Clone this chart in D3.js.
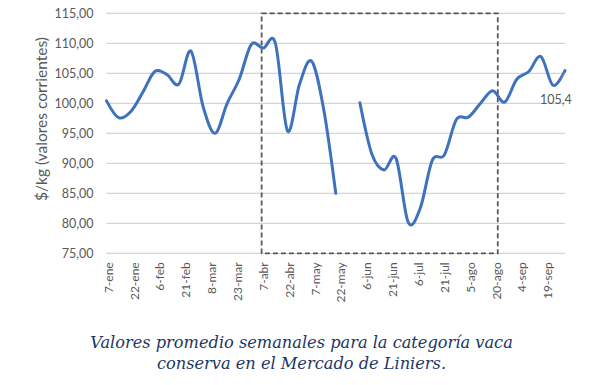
<!DOCTYPE html>
<html><head><meta charset="utf-8">
<script src="https://cdn.jsdelivr.net/npm/d3@7"></script>
<style>
html,body{margin:0;padding:0;background:#fff;}
svg{display:block;}
</style></head>
<body>
<svg id="chart" width="603" height="385"></svg>
<script>
// ---- data ----
const weekIndex = d3.range(39);               // weekly observations starting 7-ene
const values = [100.4, 97.6, 98.6, 101.8, 105.3, 104.8, 103.2, 108.7, 99.5, 95.0,
  100.0, 104.0, 109.8, 109.2, 110.0, 95.4, 103.2, 107.0, 99.0, 85.0,
  null, 100.1, 91.5, 88.9, 90.8, 80.2, 82.5, 90.5, 91.4, 97.3,
  97.7, 100.0, 102.1, 100.2, 104.0, 105.3, 107.8, 103.0, 105.45];
const tickDays = [0, 15, 30, 45, 60, 75, 90, 105, 120, 135, 150, 165, 180, 195, 210, 225, 240, 255];
const tickLabels = ["7-ene", "22-ene", "6-feb", "21-feb", "8-mar", "23-mar", "7-abr", "22-abr", "7-may",
  "22-may", "6-jun", "21-jun", "6-jul", "21-jul", "5-ago", "20-ago", "4-sep", "19-sep"];
const yTicks = [75, 80, 85, 90, 95, 100, 105, 110, 115];
const boxDays = [90, 227];
const yTitle = "$/kg (valores corrientes)";
const captionLines = ["Valores promedio semanales para la categoría vaca", "conserva en el Mercado de Liniers."];

// ---- layout ----
const svg = d3.select("#chart");
const plot = {left: 106.5, right: 565, top: 13.3, bottom: 253.3};
const x = d3.scaleLinear().domain([0, 266]).range([plot.left, plot.right]);
const y = d3.scaleLinear().domain([75, 115]).range([plot.bottom, plot.top]);
const fmt = v => d3.format(".2f")(v).replace(".", ",");
const sans = "Lato, 'Open Sans', sans-serif";

svg.append("rect").attr("width", 603).attr("height", 385).attr("fill", "#fff");

svg.append("defs").append("clipPath").attr("id", "clip")
  .append("rect").attr("x", 0).attr("y", 0).attr("width", 572).attr("height", 385);

const g = svg.append("g").attr("clip-path", "url(#clip)");

// gridlines
g.append("g").selectAll("line").data(yTicks).join("line")
  .attr("x1", plot.left).attr("x2", plot.right)
  .attr("y1", d => y(d)).attr("y2", d => y(d))
  .attr("stroke", "#d4d4d4").attr("stroke-width", 1.2);

// y tick labels
g.append("g").selectAll("text").data(yTicks).join("text")
  .attr("x", plot.left - 13).attr("y", d => y(d)).attr("dy", "0.35em")
  .attr("text-anchor", "end")
  .attr("font-family", sans).attr("font-size", 12.5)
  .attr("fill", "#595959").text(fmt);

// y title
g.append("text")
  .attr("transform", `translate(42,119) rotate(-90)`)
  .attr("text-anchor", "middle").attr("dy", "0.35em")
  .attr("font-family", sans).attr("font-size", 15.5)
  .attr("fill", "#595959").text(yTitle);

// x tick labels
g.append("g").selectAll("text").data(tickDays).join("text")
  .attr("transform", d => `translate(${x(d) + 2},${plot.bottom + 9}) rotate(-90)`)
  .attr("text-anchor", "end").attr("dy", "0.35em")
  .attr("font-family", sans).attr("font-size", 12)
  .attr("fill", "#595959").text((d, i) => tickLabels[i]);

// dashed box
g.append("rect")
  .attr("x", x(boxDays[0])).attr("y", y(115))
  .attr("width", x(boxDays[1]) - x(boxDays[0])).attr("height", y(75) - y(115))
  .attr("fill", "none").attr("stroke", "#595959").attr("stroke-width", 1.8)
  .attr("stroke-dasharray", "5,3");

// line
const line = d3.line()
  .defined(d => values[d] !== null)
  .x(d => x(d * 7)).y(d => y(values[d]))
  .curve(d3.curveCardinal.tension(0));
g.append("path").datum(weekIndex).attr("d", line)
  .attr("fill", "none").attr("stroke", "#3f72bd").attr("stroke-width", 3)
  .attr("stroke-linejoin", "round").attr("stroke-linecap", "round");

// last value label
const li = values.length - 1;
g.append("line")
  .attr("x1", x(li * 7)).attr("y1", y(values[li]) + 2)
  .attr("x2", x(li * 7) - 3.5).attr("y2", y(values[li]) + 9)
  .attr("stroke", "#a6a6a6").attr("stroke-width", 1);
g.append("text")
  .attr("x", x(li * 7) - 25).attr("y", y(values[li]) + 33)
  .attr("font-family", sans).attr("font-size", 12.5)
  .attr("fill", "#595959").text(fmt(values[li]));

// caption
svg.append("g").selectAll("text").data(captionLines).join("text")
  .attr("x", 301.5).attr("y", (d, i) => 348 + i * 20.5)
  .attr("text-anchor", "middle")
  .attr("font-family", "'DejaVu Serif', serif").attr("font-style", "italic")
  .attr("font-size", 16.2).attr("fill", "#1c3668").text(d => d);
</script>
</body></html>
